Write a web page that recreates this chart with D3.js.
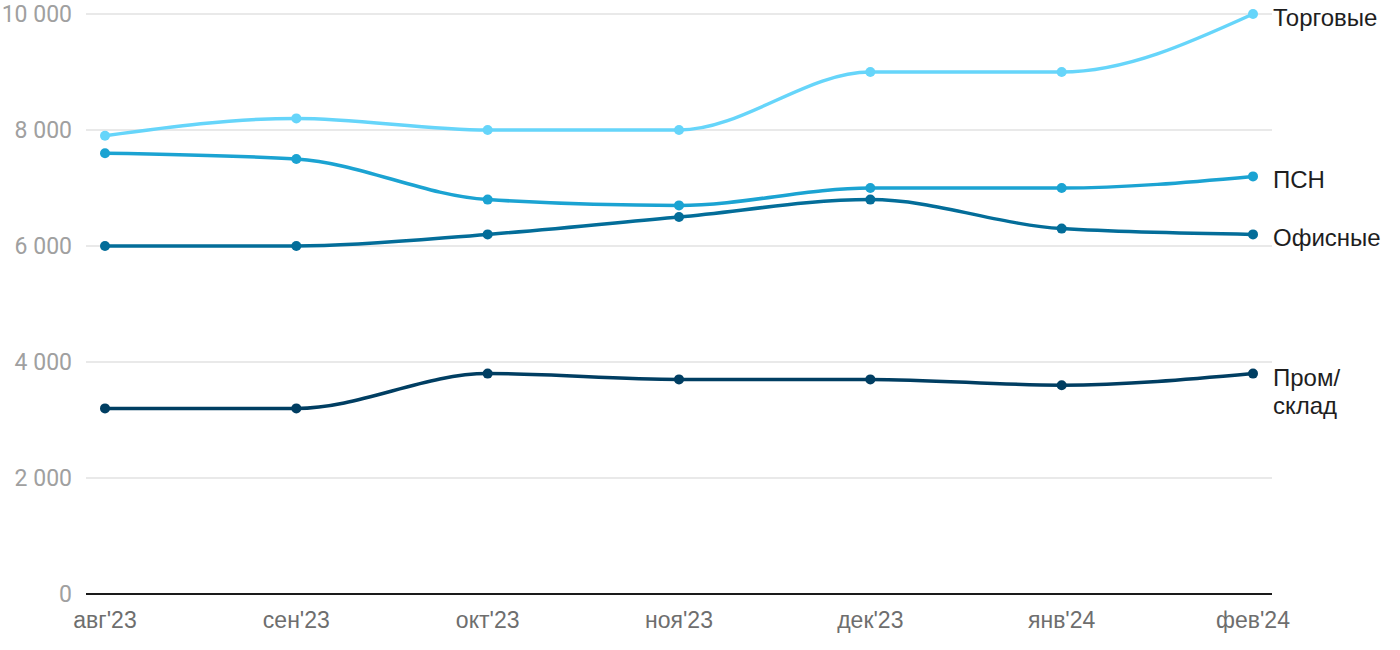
<!DOCTYPE html>
<html><head><meta charset="utf-8">
<script src="https://cdn.jsdelivr.net/npm/d3@7"></script>
<style>body{margin:0;background:#fff}svg{display:block;font-family:Roboto,sans-serif}</style>
</head><body><svg id="c" width="1400" height="650"></svg>
<script>
const categories = ["авг'23","сен'23","окт'23","ноя'23","дек'23","янв'24","фев'24"];
const torgovye = [7900, 8200, 8000, 8000, 9000, 9000, 10000];
const psn = [7600, 7500, 6800, 6700, 7000, 7000, 7200];
const ofisnye = [6000, 6000, 6200, 6500, 6800, 6300, 6200];
const promsklad = [3200, 3200, 3800, 3700, 3700, 3600, 3800];
const yTicks = [0, 2000, 4000, 6000, 8000, 10000];
const seriesNames = ["Торговые", "ПСН", "Офисные", "Пром/склад"];
const colors = ["#66d5fa", "#1ba3d2", "#036d99", "#003e62"];

const series = [
  {name: seriesNames[0], values: torgovye, color: colors[0], lines: ["Торговые"]},
  {name: seriesNames[1], values: psn, color: colors[1], lines: ["ПСН"]},
  {name: seriesNames[2], values: ofisnye, color: colors[2], lines: ["Офисные"]},
  {name: seriesNames[3], values: promsklad, color: colors[3], lines: ["Пром/", "склад"]}
];

const svg = d3.select("#c");
const x = d3.scalePoint().domain(categories).range([105, 1253]);
const y = d3.scaleLinear().domain([0, 10000]).range([594, 14]);
const fmt = v => d3.format(",")(v).replace(/,/g, " ");

const g = svg.append("g");
g.selectAll("line.grid").data(yTicks.filter(d => d > 0)).join("line")
  .attr("x1", 86).attr("x2", 1272).attr("y1", d => y(d)).attr("y2", d => y(d))
  .attr("stroke", "#e2e2e2").attr("stroke-width", 1.5);
g.append("line").attr("x1", 86).attr("x2", 1272).attr("y1", y(0)).attr("y2", y(0))
  .attr("stroke", "#1a1a1a").attr("stroke-width", 2);

g.selectAll("text.yt").data(yTicks).join("text")
  .attr("x", 72).attr("y", d => y(d) + 7.8)
  .attr("text-anchor", "end").attr("fill", "#a0a0a0").attr("font-size", 23)
  .text(fmt);

g.selectAll("text.xt").data(categories).join("text")
  .attr("x", d => x(d)).attr("y", 628).attr("text-anchor", "middle")
  .attr("font-family", "'Liberation Sans', Arial, sans-serif")
  .attr("fill", "#6e6e6e").attr("font-size", 23).text(d => d);

const line = d3.line().x((d, i) => x(categories[i])).y(d => y(d)).curve(d3.curveMonotoneX);

series.forEach(s => {
  g.append("path").attr("d", line(s.values)).attr("fill", "none")
    .attr("stroke", s.color).attr("stroke-width", 3.5);
  g.selectAll(null).data(s.values).join("circle")
    .attr("cx", (d, i) => x(categories[i])).attr("cy", d => y(d)).attr("r", 5)
    .attr("fill", s.color);
  const last = s.values[s.values.length - 1];
  const t = g.append("text").attr("y", y(last) + 12)
    .attr("font-family", "'Liberation Sans', Arial, sans-serif")
    .attr("fill", "#1e1e1e").attr("font-size", 24);
  s.lines.forEach((l, i) => t.append("tspan").attr("x", 1273).attr("dy", i === 0 ? 0 : 28).text(l));
});
</script></body></html>
